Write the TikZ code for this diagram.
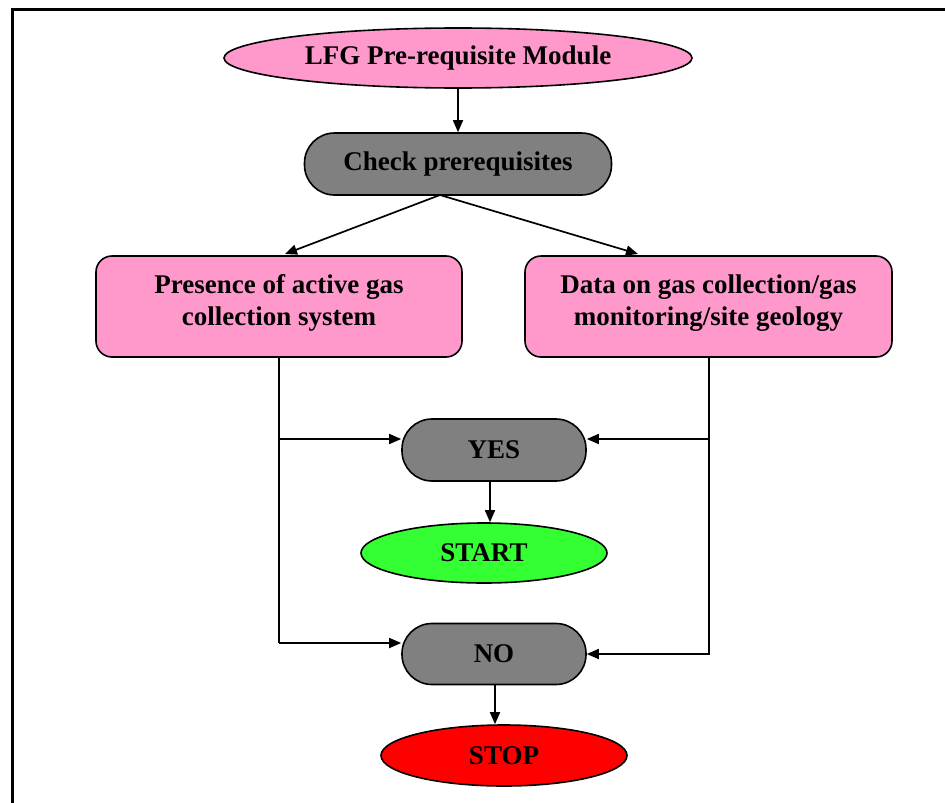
\documentclass[tikz,border=0pt]{standalone}
\usepackage{fontspec}
\setmainfont{Liberation Serif}
\usetikzlibrary{arrows.meta,shapes.geometric}
\definecolor{pinkfill}{HTML}{FF99CC}
\definecolor{greyfill}{HTML}{808080}
\definecolor{greenfill}{HTML}{33FF33}
\definecolor{redfill}{HTML}{FF0000}
\tikzset{
  lbl/.style={font=\fontsize{27}{32}\selectfont\bfseries, text=black, align=center},
  oval/.style={lbl, ellipse, draw=black, line width=1.6pt, inner sep=0pt},
  pill/.style={lbl, rectangle, draw=black, line width=1.6pt, fill=greyfill, inner sep=0pt},
  panel/.style={lbl, rectangle, rounded corners=16pt, draw=black, line width=1.6pt, fill=pinkfill, inner sep=0pt},
  link/.style={line width=1.7pt, -{Triangle[length=12pt,width=10pt]}},
  rail/.style={line width=1.7pt}
}
\begin{document}
\begin{tikzpicture}[x=1pt,y=-1pt]
\useasboundingbox (0,0) rectangle (945,803);
% frame
\draw[line width=3pt] (12,803) -- (12,9) -- (945,9);

\node[oval, fill=pinkfill, minimum width=468pt, minimum height=60pt] (mod) at (458,58) {LFG Pre-requisite Module};
\node[pill, minimum width=307pt, minimum height=62pt, rounded corners=30pt] (chk) at (458,164) {Check prerequisites};
\node[panel, minimum width=366pt, minimum height=101pt] (lbox) at (279,306.5) {};
\node[lbl] at (279,303) {Presence of active gas\\collection system};
\node[panel, minimum width=367pt, minimum height=101pt] (rbox) at (708.5,306.5) {};
\node[lbl] at (708.5,303) {Data on gas collection/gas\\monitoring/site geology};
\node[pill, minimum width=184pt, minimum height=62pt, rounded corners=30pt] (yes) at (494,450) {YES};
\node[oval, fill=greenfill, minimum width=246pt, minimum height=60pt] (start) at (484,553) {START};
\node[pill, minimum width=184pt, minimum height=61pt, rounded corners=30pt] (no) at (494,654) {NO};
\node[oval, fill=redfill, minimum width=246pt, minimum height=61pt] (stop) at (504,755.5) {STOP};

% junction points on the two rails
\coordinate (split) at (440,195);
\coordinate (lyes) at (279,439);
\coordinate (lno) at (279,643);
\coordinate (ryes) at (709,439);
\coordinate (rno) at (709,654);
\coordinate (rend) at (709,655);

\draw[link] (mod.south) -- (chk.north);
\draw[link] (split) -- (285,254);
\draw[link] (split) -- (638,254);

\draw[rail] (lbox.south -| lno) -- (lno);
\draw[link] (lyes) -- (lyes -| yes.west);
\draw[link] (lno) -- (lno -| no.west);

\draw[rail] (rbox.south -| rend) -- (rend);
\draw[link] (ryes) -- (ryes -| yes.east);
\draw[link] (rno) -- (rno -| no.east);

\draw[link] (yes.south -| 490,0) -- (start.north -| 490,0);
\draw[link] (no.south -| 495,0) -- (stop.north -| 495,0);
\end{tikzpicture}
\end{document}
